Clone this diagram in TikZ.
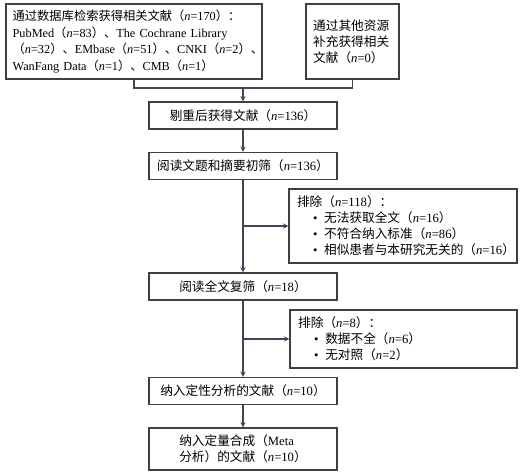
\documentclass[tikz,border=0pt]{standalone}
\usepackage{fontspec}
\setmainfont{Liberation Serif}
\newfontfamily\cjk{Noto Sans CJK SC}
\newcommand{\zh}[1]{{\cjk #1}}
\newcommand{\nval}[1]{\textit{n}=#1}
\newcommand{\bul}[1]{\hspace*{12pt}\mbox{\textbullet\hspace{5pt}#1}}
\definecolor{linkgray}{RGB}{70,66,86}

\begin{document}
\begin{tikzpicture}[x=0.75pt,y=-0.75pt,>=stealth,
  every node/.style={font=\fontsize{9.5}{12}\selectfont},
  box/.style={draw=black!75,line width=0.8pt,inner sep=0pt},
  flow/.style={box,minimum width=141pt,minimum height=20.25pt,align=left},
  link/.style={draw=linkgray,line width=0.8pt}]
  \useasboundingbox (0,0) rectangle (520,474);
  \node[box,minimum width=192pt,minimum height=56.25pt,text width=182pt,align=left,
    font=\fontsize{9.2}{12.5}\selectfont] (search) at (134,41.5)
    {\zh{通过数据库检索获得相关文献（}\nval{170}\zh{）：}\\
     PubMed\zh{（}\nval{83}\zh{）、}The Cochrane Library\\
     \zh{（}\nval{32}\zh{）、}EMbase\zh{（}\nval{51}\zh{）、}CNKI\zh{（}\nval{2}\zh{）、}\\
     WanFang Data\zh{（}\nval{1}\zh{）、}CMB\zh{（}\nval{1}\zh{）}};
  \node[box,minimum width=69.75pt,minimum height=56.25pt,text width=59pt,align=left] (other) at (352.5,41.5)
    {\zh{通过其他资源}\\\zh{补充获得相关}\\\zh{文献（}\nval{0}\zh{）}};
  \node[flow] (dedup) at (243,115.5) {\zh{剔重后获得文献（}\nval{136}\zh{）}};
  \node[flow] (screen) at (243,166) {\zh{阅读文题和摘要初筛（}\nval{136}\zh{）}};
  \node[box,minimum width=171pt,minimum height=55.5pt,text width=159pt,align=left] (excl1) at (403,226)
    {\zh{排除（}\nval{118}\zh{）：}\\
     \bul{\zh{无法获取全文（}\nval{16}\zh{）}}\\
     \bul{\zh{不符合纳入标准（}\nval{86}\zh{）}}\\
     \bul{\zh{相似患者与本研究无关的（}\nval{16}\zh{）}}};
  \node[flow] (full) at (243,286.5) {\zh{阅读全文复筛（}\nval{18}\zh{）}};
  \node[box,minimum width=170.25pt,minimum height=43.5pt,text width=158pt,align=left] (excl2) at (403.5,339)
    {\zh{排除（}\nval{8}\zh{）：}\\
     \bul{\zh{数据不全（}\nval{6}\zh{）}}\\
     \bul{\zh{无对照（}\nval{2}\zh{）}}};
  \node[flow] (qual) at (243,391) {\zh{纳入定性分析的文献（}\nval{10}\zh{）}};
  \node[flow,minimum height=31.5pt] (meta) at (243,449)
    {\zh{纳入定量合成（}Meta\\\zh{分析）的文献（}\nval{10}\zh{）}};
  \coordinate (join) at (243,88);
  \coordinate (fork1) at (screen.south |- excl1.west);
  \coordinate (fork2) at (full.south |- excl2.west);
  \draw[link] (search.south) |- (join) -| (other.south);
  \draw[link,->] (join) -- (dedup);
  \draw[link,->] (dedup) -- (screen);
  \draw[link,->] (screen) -- (full);
  \draw[link,->] (fork1) -- (excl1);
  \draw[link,->] (full) -- (qual);
  \draw[link,->] (fork2) -- (excl2);
  \draw[link,->] (qual) -- (meta);
\end{tikzpicture}
\end{document}
